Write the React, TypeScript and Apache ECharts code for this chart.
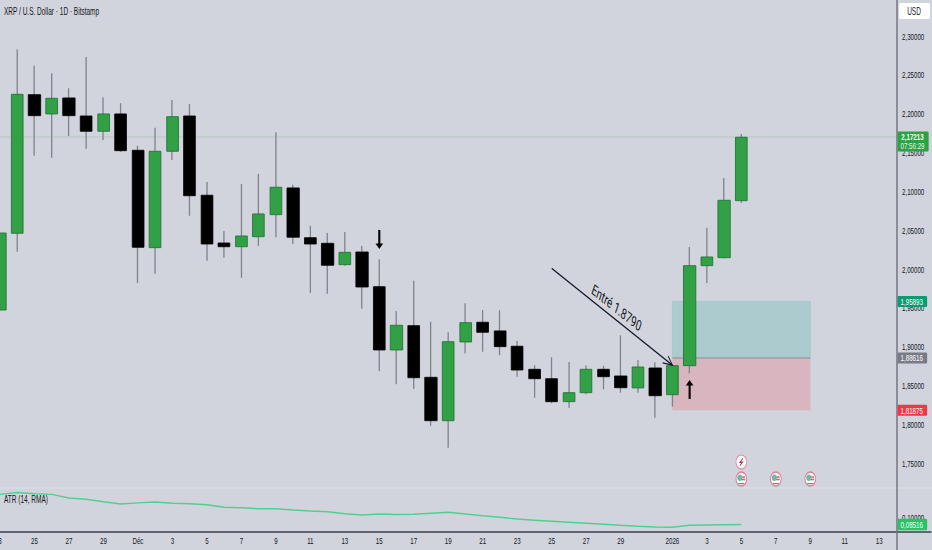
import React, { useEffect, useRef } from "react";
import * as echarts from "echarts";

const dayLabels = [
  "3", "", "25", "", "27", "", "29", "", "Déc", "", "3", "", "5", "", "7", "", "9", "", "11", "", "13", "", "15", "", "17", "", "19", "", "21", "", "23", "", "25", "", "27", "", "29", "", "", "2026", "", "3", "", "5", "", "7", "", "9", "", "11", "", "13", "", "", "",
];
const opens = [1.948, 2.0468, 2.2253, 2.2005, 2.2211, 2.1979, 2.1782, 2.2005, 2.1537, 2.0283, 2.1524, 2.1979, 2.0958, 2.0343, 2.0295, 2.0424, 2.0708, 2.1052, 2.0411, 2.0339, 2.0064, 2.0227, 1.978, 1.8965, 1.9278, 1.8613, 1.8054, 1.9068, 1.9322, 1.921, 1.9013, 1.8716, 1.8595, 1.8299, 1.8415, 1.8716, 1.863, 1.8476, 1.8733, 1.8389, 1.8763, 2.0051, 2.0154, 2.0888];
const closes = [2.0472, 2.2258, 2.1983, 2.2207, 2.1983, 2.1782, 2.2005, 2.1532, 2.0288, 2.1524, 2.197, 2.0952, 2.033, 2.0295, 2.0433, 2.0717, 2.1061, 2.0417, 2.033, 2.0056, 2.0223, 1.9776, 1.8965, 1.9283, 1.8608, 1.8054, 1.9072, 1.9317, 1.9193, 1.9008, 1.8707, 1.8595, 1.8299, 1.8415, 1.8716, 1.8621, 1.8479, 1.8746, 1.8376, 1.8763, 2.0051, 2.0163, 2.0893, 2.1705];
const lows = [1.948, 2.0231, 2.1468, 2.1442, 2.1721, 2.1558, 2.167, 2.1515, 1.9828, 1.9948, 2.1412, 2.0695, 2.0115, 2.0154, 1.9896, 2.0308, 2.0417, 2.033, 1.9699, 1.969, 2.0064, 1.9497, 1.8695, 1.8523, 1.8463, 1.799, 1.7707, 1.8922, 1.8943, 1.8897, 1.8621, 1.8351, 1.8279, 1.8222, 1.8395, 1.8459, 1.8415, 1.8415, 1.8093, 1.8235, 1.8665, 1.9828, 2.0154, 2.0862];
const highs = [2.0472, 2.2838, 2.2627, 2.2529, 2.2336, 2.2739, 2.222, 2.2142, 2.1596, 2.1828, 2.2185, 2.2133, 2.1129, 2.0498, 2.1103, 2.1232, 2.1769, 2.1094, 2.0566, 2.0472, 2.0485, 2.0305, 2.0133, 1.9467, 1.9857, 1.9329, 1.9193, 1.9566, 1.948, 1.9476, 1.9081, 1.8768, 1.8871, 1.881, 1.8765, 1.8763, 1.9154, 1.8836, 1.8807, 1.8763, 2.0292, 2.054, 2.118, 2.1747];
const atrValues = [0.1536, 0.1581, 0.155, 0.1536, 0.1455, 0.1425, 0.1371, 0.132, 0.1343, 0.1364, 0.1334, 0.1325, 0.1302, 0.1243, 0.1234, 0.1211, 0.1211, 0.1182, 0.1159, 0.1143, 0.1098, 0.1068, 0.1091, 0.108, 0.1084, 0.1107, 0.113, 0.1091, 0.1052, 0.1016, 0.0977, 0.095, 0.0925, 0.0902, 0.088, 0.0857, 0.0834, 0.0814, 0.0795, 0.0789, 0.0836, 0.0841, 0.0848, 0.0852];

const priceTicks = [1.75, 1.8, 1.85, 1.9, 1.95, 2.0, 2.05, 2.1, 2.15, 2.2, 2.25, 2.3];
const atrTicks = [0.1];
const lastPrice = 2.17213;
const targetPrice = 1.95893;
const entryPrice = 1.88616;
const stopPrice = 1.81875;
const lastAtr = 0.08516;
const atrMin = 0.0682;

const zoneStart = 39;
const zoneEnd = 47;
const arrowFrom = [32, 2.0017];
const arrowTo = [39, 1.8769];
const downArrow = [22, 2.0511, 2.0266];
const upArrow = [40, 1.8334, 1.8579];
const flagEvents = [[43, 1.7303], [45, 1.7303], [47, 1.7303]];
const boltEvent = [43, 1.7522];

const BG = "#d1d4dc";
const TEXT = "#131722";
const FONT = "'Liberation Sans', sans-serif";
// The reference is a horizontally squeezed screenshot, so the whole chart is drawn wider and squeezed the same way.
const SQUEEZE = 0.65;
const X = (v: number) => v / SQUEEZE;
const AXIS_X = X(897);
const GRID_W = X(931);

const fmt = (v: number) => v.toFixed(5).replace(".", ",");

const tagText = (x: number, y: number, text: string, fill: string, size = 9.5, weight: any = "normal") => ({
  type: "text",
  x,
  y,
  style: { text, fill, fontFamily: FONT, fontSize: size, fontWeight: weight, align: "center", verticalAlign: "middle" },
});

function renderZones(_: any, api: any) {
  const a = api.coord([zoneStart, targetPrice]);
  const b = api.coord([zoneEnd, entryPrice]);
  const c = api.coord([zoneEnd, stopPrice]);
  const l = api.coord([0, lastPrice]);
  return {
    type: "group",
    children: [
      { type: "line", shape: { x1: 0, y1: l[1] + 1, x2: AXIS_X, y2: l[1] + 1 }, style: { stroke: "#b4c2be", lineWidth: 1 } },
      { type: "rect", shape: { x: a[0], y: a[1], width: b[0] - a[0], height: b[1] - a[1] }, style: { fill: "#abcbce", stroke: "#a3c8c8", lineWidth: 1 } },
      { type: "rect", shape: { x: a[0], y: b[1], width: b[0] - a[0], height: c[1] - b[1] }, style: { fill: "#d8b5bf" } },
      { type: "line", shape: { x1: a[0], y1: b[1], x2: b[0], y2: b[1] }, style: { stroke: "#a2a7ae", lineWidth: 2 } },
    ],
  };
}

function renderNotes(_: any, api: any) {
  const p = api.coord(arrowFrom);
  const q = api.coord(arrowTo);
  const screen = Math.atan2(q[1] - p[1], (q[0] - p[0]) * SQUEEZE);
  const head = (d: number) => [q[0] - X(10 * Math.cos(screen + d)), q[1] - 10 * Math.sin(screen + d)];
  const d1 = api.coord([downArrow[0], downArrow[1]]);
  const d2 = api.coord([downArrow[0], downArrow[2]]);
  const u1 = api.coord([upArrow[0], upArrow[1]]);
  const u2 = api.coord([upArrow[0], upArrow[2]]);
  const hw = X(3.8);
  return {
    type: "group",
    children: [
      { type: "line", shape: { x1: p[0], y1: p[1], x2: q[0], y2: q[1] }, style: { stroke: "#131722", lineWidth: 1.5 } },
      { type: "polyline", shape: { points: [head(0.45), q, head(-0.45)] }, style: { stroke: "#131722", fill: "none", lineWidth: 1.3 } },
      {
        type: "text",
        x: (p[0] + q[0]) / 2 + X(4.5),
        y: (p[1] + q[1]) / 2 - 9,
        rotation: -Math.atan2(q[1] - p[1], q[0] - p[0]),
        style: { text: "Entré 1.8790", fill: TEXT, fontFamily: "Roboto, sans-serif", fontSize: 15, align: "center", verticalAlign: "middle" },
      },
      { type: "line", shape: { x1: d1[0], y1: d1[1], x2: d2[0], y2: d2[1] - 5 }, style: { stroke: "#000", lineWidth: 3.2 } },
      { type: "polygon", shape: { points: [[d2[0] - hw, d2[1] - 5.5], [d2[0] + hw, d2[1] - 5.5], [d2[0], d2[1]]] }, style: { fill: "#000" } },
      { type: "line", shape: { x1: u1[0], y1: u1[1], x2: u2[0], y2: u2[1] + 5 }, style: { stroke: "#000", lineWidth: 3.2 } },
      { type: "polygon", shape: { points: [[u2[0] - hw, u2[1] + 5.5], [u2[0] + hw, u2[1] + 5.5], [u2[0], u2[1]]] }, style: { fill: "#000" } },
    ],
  };
}

function renderEvents(_: any, api: any) {
  const kids: any[] = [];
  flagEvents.forEach((e) => {
    const c = api.coord(e);
    kids.push(
      { type: "ellipse", shape: { cx: c[0], cy: c[1], rx: X(5.4), ry: 7 }, style: { fill: "#f3f3f5", stroke: "#e07d8e", lineWidth: 1.4 } },
      { type: "rect", shape: { x: c[0] - X(3.6), y: c[1] + 2, width: X(7.2), height: 1.4 }, style: { fill: "#ffffff" } },
      { type: "rect", shape: { x: c[0] - X(3), y: c[1] + 4, width: X(6), height: 1.2 }, style: { fill: "#e2576c" } },
      { type: "rect", shape: { x: c[0], y: c[1] - 2.6, width: X(3.8), height: 1.4 }, style: { fill: "#e2576c" } },
      { type: "rect", shape: { x: c[0], y: c[1] - 0.2, width: X(3.8), height: 1.4 }, style: { fill: "#e2576c" } },
      { type: "ellipse", shape: { cx: c[0] - X(1.5), cy: c[1] - 1.2, rx: X(2.6), ry: 3.2 }, style: { fill: "#6fb8ab" } }
    );
  });
  const b = api.coord(boltEvent);
  kids.push(
    { type: "ellipse", shape: { cx: b[0], cy: b[1], rx: X(5.4), ry: 7 }, style: { fill: "#f6f6f8", stroke: "#dd8b9a", lineWidth: 1.2 } },
    { type: "polyline", shape: { points: [[b[0] + X(1.6), b[1] - 3.6], [b[0] - X(1.4), b[1] + 0.4], [b[0] + X(1.2), b[1] + 0.2], [b[0] - X(1.4), b[1] + 3.6]] }, style: { stroke: "#a1394f", fill: "none", lineWidth: 1.2 } }
  );
  return { type: "group", children: kids };
}

const tagRows = [
  { price: targetPrice, color: "#0d9a70", label: fmt(targetPrice) },
  { price: entryPrice, color: "#787b86", label: fmt(entryPrice) },
  { price: stopPrice, color: "#f23645", label: fmt(stopPrice) },
];

function renderTags(_: any, api: any) {
  const kids: any[] = [];
  const tagW = X(29.5);
  tagRows.forEach((t) => {
    const y = api.coord([0, t.price])[1];
    kids.push(
      { type: "rect", shape: { x: AXIS_X + 1, y: y - 5.5, width: tagW, height: 11, r: [0, 1.5, 1.5, 0] }, style: { fill: t.color } },
      tagText(AXIS_X + tagW / 2, y + 0.5, t.label, "#ffffff")
    );
  });
  const ly = api.coord([0, lastPrice])[1];
  const lastW = X(31);
  kids.push(
    { type: "rect", shape: { x: AXIS_X + 1, y: ly - 4.5, width: lastW, height: 20, r: [0, 1.5, 1.5, 0] }, style: { fill: "#31a045" } },
    tagText(AXIS_X + lastW / 2, ly + 1, fmt(lastPrice), "#ffffff", 9.5, "bold"),
    tagText(AXIS_X + lastW / 2, ly + 10, "07:56:29", "#e6f4e6", 9.5)
  );
  return { type: "group", children: kids };
}

function renderAtrTag(_: any, api: any) {
  const y = api.coord([0, lastAtr])[1];
  const tagW = X(29.5);
  return {
    type: "group",
    children: [
      { type: "rect", shape: { x: AXIS_X + 1, y: y - 5.7, width: tagW, height: 11.4, r: [0, 1.5, 1.5, 0] }, style: { fill: "#25c464" } },
      tagText(AXIS_X + tagW / 2, y + 0.5, fmt(lastAtr), "#ffffff"),
    ],
  };
}

function renderDayLabels(_: any, api: any) {
  const kids: any[] = [];
  dayLabels.forEach((label, i) => {
    if (!label) return;
    const c = api.coord([i, atrMin]);
    kids.push(tagText(c[0], c[1] + 9, label, TEXT, 9.5));
  });
  return { type: "group", children: kids };
}

export default function App() {
  const ref = useRef<HTMLDivElement>(null);
  useEffect(() => {
    document.body.style.margin = "0";
    const chart = echarts.init(ref.current!, null, { renderer: "svg" });
    const idx = opens.map((_, i) => i);
    chart.setOption({
      animation: false,
      backgroundColor: BG,
      grid: [
        { left: 0, width: GRID_W, top: 0, height: 488 },
        { left: 0, width: GRID_W, top: 488, height: 44 },
      ],
      xAxis: [
        { type: "category", gridIndex: 0, data: dayLabels, boundaryGap: false, show: false },
        {
          type: "category",
          gridIndex: 1,
          data: dayLabels,
          boundaryGap: false,
          axisLine: { show: true, lineStyle: { color: "#61646f", width: 2 } },
          axisTick: { show: false },
          axisLabel: { show: false },
        },
      ],
      yAxis: [
        {
          type: "value",
          gridIndex: 0,
          position: "right",
          offset: AXIS_X - GRID_W,
          min: 1.71872,
          max: 2.34727,
          splitLine: { show: false },
          axisLine: { show: false },
          axisTick: { show: false },
          axisLabel: { customValues: priceTicks, formatter: fmt, color: TEXT, fontFamily: FONT, fontSize: 9.5, margin: X(5) },
        },
        {
          type: "value",
          gridIndex: 1,
          position: "right",
          offset: AXIS_X - GRID_W,
          min: atrMin,
          max: 0.1682,
          splitLine: { show: false },
          axisLine: { show: false },
          axisTick: { show: false },
          axisLabel: { customValues: atrTicks, formatter: fmt, color: TEXT, fontFamily: FONT, fontSize: 9.5, margin: X(5) },
        },
      ],
      series: [
        { type: "custom", name: "Zones", xAxisIndex: 0, yAxisIndex: 0, z: 1, data: [[0, lastPrice]], renderItem: renderZones, silent: true },
        {
          type: "candlestick",
          name: "Wicks",
          xAxisIndex: 0,
          yAxisIndex: 0,
          z: 2,
          barWidth: 2,
          itemStyle: { color: "#80838d", color0: "#80838d", borderColor: "#80838d", borderColor0: "#80838d", borderWidth: 2 },
          data: idx.map((i) => [opens[i], opens[i], lows[i], highs[i]]),
        },
        {
          type: "candlestick",
          name: "XRP / U.S. Dollar",
          xAxisIndex: 0,
          yAxisIndex: 0,
          z: 3,
          barWidth: X(12.2),
          itemStyle: { color: "#32a045", color0: "#000000", borderColor: "#1f7035", borderColor0: "#000000", borderWidth: 1 },
          data: idx.map((i) => [opens[i], closes[i], Math.min(opens[i], closes[i]), Math.max(opens[i], closes[i])]),
        },
        { type: "custom", name: "Notes", xAxisIndex: 0, yAxisIndex: 0, z: 5, data: [[0, lastPrice]], renderItem: renderNotes, silent: true },
        { type: "custom", name: "Events", xAxisIndex: 0, yAxisIndex: 0, z: 5, data: [[0, lastPrice]], renderItem: renderEvents, silent: true },
        { type: "custom", name: "Tags", xAxisIndex: 0, yAxisIndex: 0, z: 8, data: [[0, lastPrice]], renderItem: renderTags, silent: true },
        {
          type: "line",
          name: "ATR",
          xAxisIndex: 1,
          yAxisIndex: 1,
          z: 3,
          symbol: "none",
          lineStyle: { color: "#4fd18d", width: 1.4 },
          data: atrValues,
        },
        { type: "custom", name: "AtrTag", xAxisIndex: 1, yAxisIndex: 1, z: 8, data: [[0, lastAtr]], renderItem: renderAtrTag, silent: true },
        { type: "custom", name: "Days", xAxisIndex: 1, yAxisIndex: 1, z: 8, data: [[0, lastAtr]], renderItem: renderDayLabels, silent: true },
      ],
      graphic: [
        { type: "line", z: 1, shape: { x1: 0, y1: 488, x2: X(932), y2: 488 }, style: { stroke: "#e0e2e8", lineWidth: 1 } },
        { type: "line", z: 7, shape: { x1: AXIS_X, y1: 0, x2: AXIS_X, y2: 550 }, style: { stroke: "#6f727d", lineWidth: 2.2 } },
        { type: "rect", z: 9, shape: { x: X(899), y: 3, width: X(31), height: 16, r: 2 }, style: { fill: "#ffffff" } },
        { type: "text", z: 10, x: X(914), y: 11.5, style: { text: "USD", fill: TEXT, fontFamily: FONT, fontSize: 10, align: "center", verticalAlign: "middle" } },
        { type: "text", z: 10, x: X(4), y: 11, style: { text: "XRP / U.S. Dollar · 1D · Bitstamp", fill: TEXT, fontFamily: FONT, fontSize: 10, verticalAlign: "middle" } },
        { type: "text", z: 10, x: X(4), y: 499, style: { text: "ATR (14, RMA)", fill: TEXT, fontFamily: FONT, fontSize: 10, verticalAlign: "middle" } },
      ],
    });
    return () => chart.dispose();
  }, []);
  return (
    <div style={{ position: "absolute", left: 0, top: 0, width: 932, height: 550, overflow: "hidden" }}>
      <div ref={ref} style={{ width: 932 / SQUEEZE, height: 550, transform: `scaleX(${SQUEEZE})`, transformOrigin: "0 0" }} />
    </div>
  );
}
